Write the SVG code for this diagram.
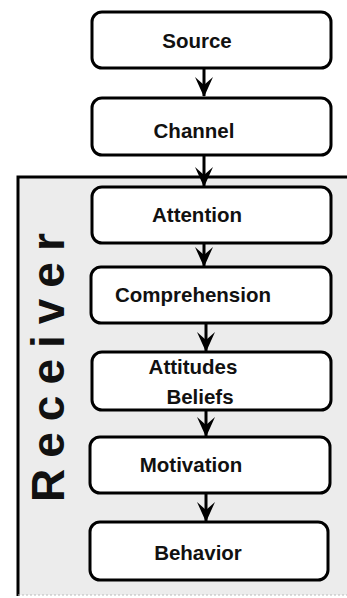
<svg xmlns="http://www.w3.org/2000/svg" width="347" height="598" viewBox="0 0 347 598">
<defs>
<style>
.box{fill:#fff;stroke:#000;stroke-width:3}
.lbl{font-family:"Liberation Sans",Arial,sans-serif;font-weight:bold;font-size:20.5px;fill:#111}
.conn{stroke:#000;stroke-width:3;fill:none}
</style>
<marker id="ah" viewBox="0 0 20 18" refX="19" refY="9" markerWidth="20" markerHeight="18" markerUnits="userSpaceOnUse" orient="auto">
<path d="M0,0 L8,9 L0,18 L20,9 Z" fill="#000"/>
</marker>
</defs>
<rect width="347" height="598" fill="#fff"/>
<g id="receiver">
<rect x="18" y="177" width="329" height="418" fill="#ececec"/>
<path d="M18,596 V177 H347" fill="none" stroke="#000" stroke-width="3"/>
<path d="M18,595 H347" fill="none" stroke="#bbb" stroke-width="1" stroke-dasharray="2,2"/>
<text transform="translate(64,502) rotate(-90)" font-family="'Liberation Sans',Arial,sans-serif" font-weight="bold" font-size="46" letter-spacing="11" fill="#111">Receiver</text>
</g>
<g id="connectors">
<path class="conn" d="M204,68 V96" marker-end="url(#ah)"/>
<path class="conn" d="M204,155 V186" marker-end="url(#ah)"/>
<path class="conn" d="M204,243 V266" marker-end="url(#ah)"/>
<path class="conn" d="M206,323 V351" marker-end="url(#ah)"/>
<path class="conn" d="M206,410 V436" marker-end="url(#ah)"/>
<path class="conn" d="M206,493 V521" marker-end="url(#ah)"/>
</g>
<g id="source"><rect class="box" x="92" y="12" width="239" height="56" rx="10"/><text class="lbl" x="197" y="48" text-anchor="middle">Source</text></g>
<g id="channel"><rect class="box" x="92" y="98" width="239" height="57" rx="10"/><text class="lbl" x="194" y="138" text-anchor="middle">Channel</text></g>
<g id="attention"><rect class="box" x="92" y="187" width="239" height="56" rx="10"/><text class="lbl" x="197" y="222" text-anchor="middle">Attention</text></g>
<g id="comprehension"><rect class="box" x="91" y="267" width="240" height="56" rx="10"/><text class="lbl" x="193" y="302" text-anchor="middle">Comprehension</text></g>
<g id="attitudes"><rect class="box" x="92" y="352" width="239" height="58" rx="10"/><text class="lbl" x="193" y="374" text-anchor="middle">Attitudes</text><text class="lbl" x="200" y="404" text-anchor="middle">Beliefs</text></g>
<g id="motivation"><rect class="box" x="90" y="437" width="240" height="56" rx="10"/><text class="lbl" x="191" y="472" text-anchor="middle">Motivation</text></g>
<g id="behavior"><rect class="box" x="90" y="522" width="238" height="58" rx="10"/><text class="lbl" x="198" y="560" text-anchor="middle">Behavior</text></g>
</svg>
